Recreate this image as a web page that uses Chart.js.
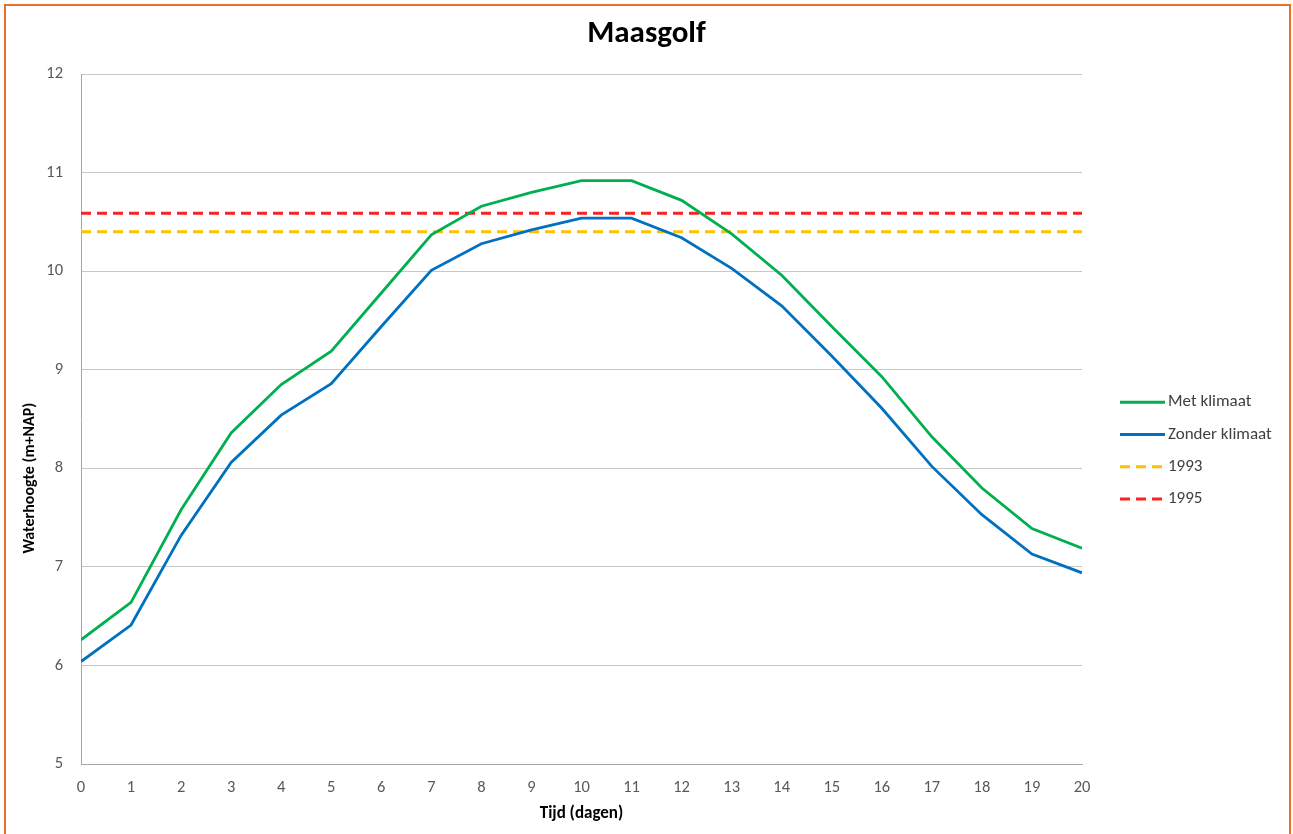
<!DOCTYPE html>
<html>
<head>
<meta charset="utf-8">
<title>Maasgolf</title>
<script src="https://cdn.jsdelivr.net/npm/chart.js@4.4.1/dist/chart.umd.min.js"></script>
<style>
  html, body { margin: 0; padding: 0; background: #fff; }
  #wrap { position: relative; width: 1293px; height: 834px; overflow: hidden; }
  #frame {
    position: absolute; left: 4px; top: 4px; width: 1283px; height: 840px;
    border: 2px solid #E8702A; pointer-events: none;
  }
  canvas { position: absolute; left: 0; top: 0; }
</style>
</head>
<body>
<div id="wrap">
  <canvas id="chart" width="1293" height="834"></canvas>
  <div id="frame"></div>
</div>
<script>
// ===== Data =====
const days = [0, 1, 2, 3, 4, 5, 6, 7, 8, 9, 10, 11, 12, 13, 14, 15, 16, 17, 18, 19, 20];
const metKlimaat = [6.26, 6.64, 7.58, 8.36, 8.85, 9.19, 9.78, 10.37, 10.66, 10.80, 10.92,
                    10.92, 10.72, 10.38, 9.96, 9.44, 8.93, 8.32, 7.80, 7.39, 7.19];
const zonderKlimaat = [6.04, 6.41, 7.32, 8.06, 8.54, 8.86, 9.44, 10.01, 10.28, 10.42, 10.54,
                       10.54, 10.34, 10.03, 9.65, 9.14, 8.61, 8.02, 7.53, 7.13, 6.94];
const level1993 = 10.40;
const level1995 = 10.59;
const yTicks = [5, 6, 7, 8, 9, 10, 11, 12];

const FONT = "Carlito, Lato, 'Open Sans', sans-serif";
const GREY = "#595959";

// ===== Extra drawing: y title + legend =====
const sidePlugin = {
  id: "sideTexts",
  afterDraw(chart) {
    const { ctx, chartArea } = chart;
    ctx.save();
    // y axis title (sits lower than centre in the original)
    ctx.font = "bold 16px " + FONT;
    ctx.fillStyle = "#000";
    ctx.textAlign = "center";
    ctx.textBaseline = "middle";
    ctx.translate(30, chartArea.top + 404);
    ctx.rotate(-Math.PI / 2);
    ctx.fillText("Waterhoogte (m+NAP)", 0, 0);
    ctx.restore();

    // legend
    ctx.save();
    ctx.font = "17px " + FONT;
    ctx.textBaseline = "middle";
    ctx.textAlign = "left";
    chart.data.datasets.forEach((ds, i) => {
      const y = chartArea.top + 328 + i * 32.3;
      const x0 = chartArea.right + 38;
      ctx.beginPath();
      ctx.strokeStyle = ds.borderColor;
      ctx.lineWidth = 3;
      ctx.setLineDash(ds.borderDash || []);
      ctx.moveTo(x0, y);
      ctx.lineTo(x0 + 45, y);
      ctx.stroke();
      ctx.setLineDash([]);
      ctx.fillStyle = "#404040";
      ctx.fillText(ds.label, x0 + 48, y);
    });
    ctx.restore();
  }
};

const ctx = document.getElementById("chart").getContext("2d");
new Chart(ctx, {
  type: "line",
  data: {
    datasets: [
      { label: "Met klimaat", data: days.map((d, i) => ({ x: d, y: metKlimaat[i] })),
        borderColor: "#00B050", borderWidth: 2.8 },
      { label: "Zonder klimaat", data: days.map((d, i) => ({ x: d, y: zonderKlimaat[i] })),
        borderColor: "#0070C0", borderWidth: 2.8 },
      { label: "1993", data: [{ x: days[0], y: level1993 }, { x: days[days.length - 1], y: level1993 }],
        borderColor: "#FFC000", borderWidth: 3, borderDash: [10, 6] },
      { label: "1995", data: [{ x: days[0], y: level1995 }, { x: days[days.length - 1], y: level1995 }],
        borderColor: "#FF2020", borderWidth: 3, borderDash: [10, 6] }
    ]
  },
  options: {
    responsive: false,
    animation: false,
    devicePixelRatio: 1,
    layout: { padding: 0 },
    elements: { point: { radius: 0 }, line: { tension: 0, borderCapStyle: "butt" } },
    plugins: {
      legend: { display: false },
      tooltip: { enabled: false },
      title: {
        display: true, text: "Maasgolf", color: "#000",
        font: { family: FONT, size: 31, weight: "bold" },
        padding: { top: 16, bottom: 21 }
      }
    },
    scales: {
      x: {
        type: "linear", min: 0, max: 20,
        afterFit: s => { s.height = 70; },
        ticks: { stepSize: 1, color: GREY, padding: 14, font: { family: FONT, size: 16.5 } },
        grid: { display: false, drawTicks: false },
        border: { display: true, color: "#A6A6A6", width: 1 },
        title: { display: true, text: "Tijd (dagen)", color: "#000",
                 font: { family: FONT, size: 17, weight: "bold" }, padding: { top: 0, bottom: 10 } }
      },
      y: {
        min: yTicks[0], max: yTicks[yTicks.length - 1],
        afterFit: s => { s.width = 81; },
        afterBuildTicks: s => { s.ticks = yTicks.map(v => ({ value: v })); },
        ticks: { color: GREY, padding: 18, font: { family: FONT, size: 16.5 } },
        grid: { color: "#C8C8C8", lineWidth: 1, drawTicks: false },
        border: { display: true, color: "#A6A6A6", width: 1 }
      },
      // empty axis on the right that keeps room for the legend
      legendSpace: {
        position: "right", display: true,
        afterFit: s => { s.width = 211; },
        ticks: { display: false },
        grid: { display: false, drawTicks: false },
        border: { display: false }
      }
    }
  },
  plugins: [sidePlugin]
});
</script>
</body>
</html>
